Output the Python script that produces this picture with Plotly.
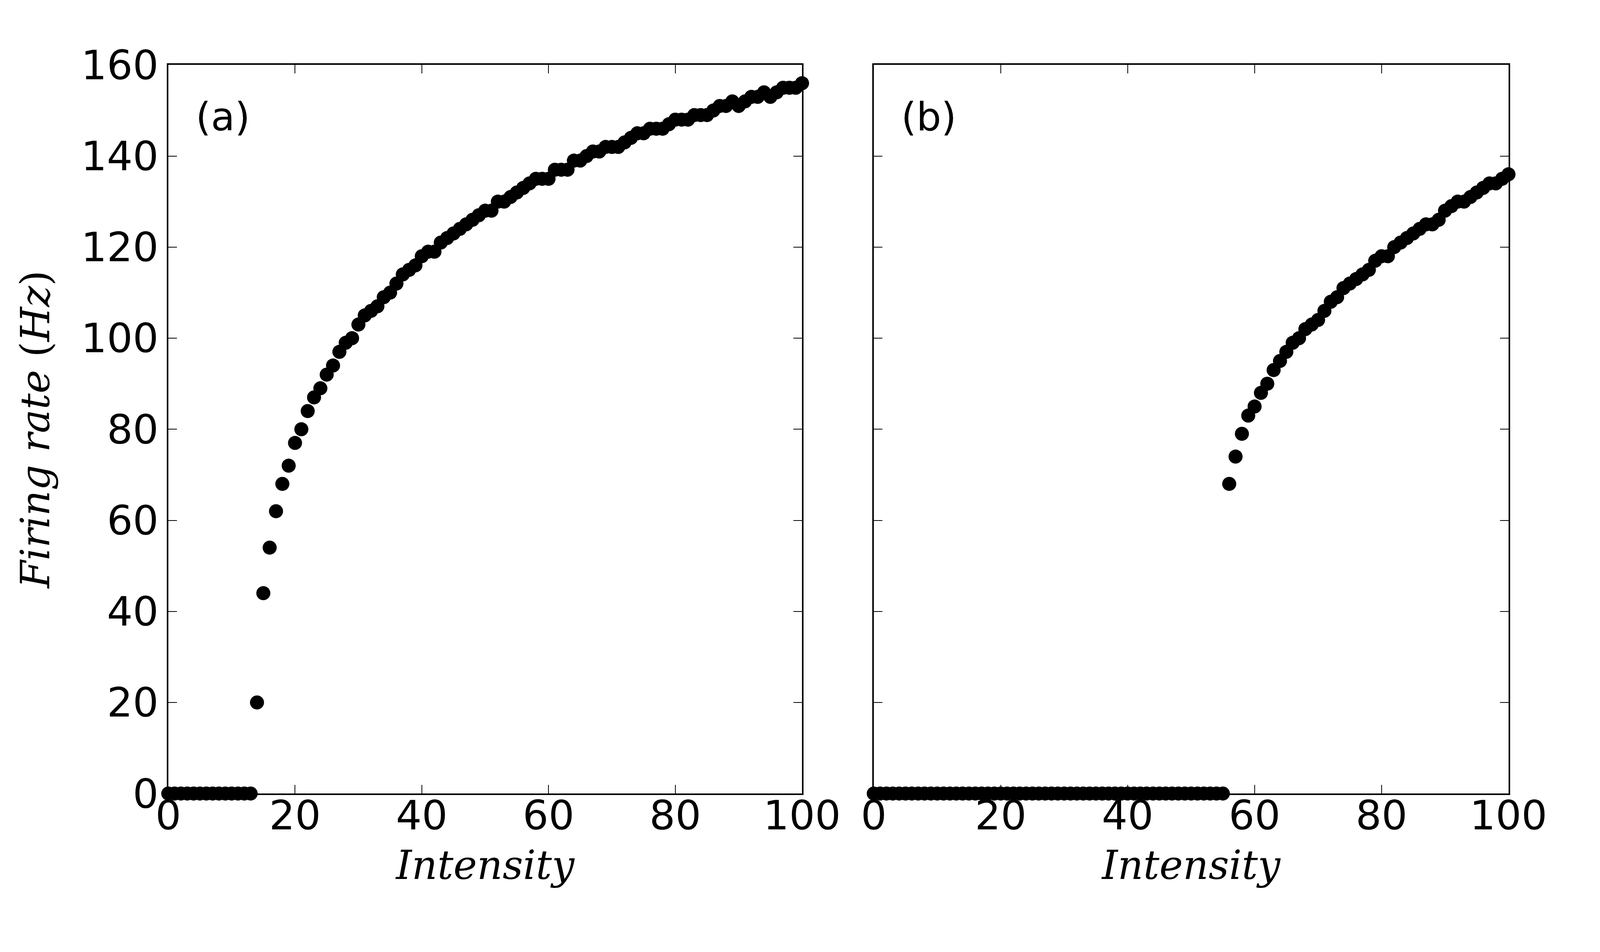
import plotly.graph_objects as go
from plotly.subplots import make_subplots

# Intensity steps (0..100)
intensity = list(range(0, 101))

# Firing rate (Hz), panel (a)
rate_a = [0] * 14 + [
    20, 44, 54, 62, 68, 72, 77, 80, 84, 87,
    89, 92, 94, 97, 99, 100, 103, 105, 106, 107,
    109, 110, 112, 114, 115, 116, 118, 119, 119, 121,
    122, 123, 124, 125, 126, 127, 128, 128, 130, 130,
    131, 132, 133, 134, 135, 135, 135, 137, 137, 137,
    139, 139, 140, 141, 141, 142, 142, 142, 143, 144,
    145, 145, 146, 146, 146, 147, 148, 148, 148, 149,
    149, 149, 150, 151, 151, 152, 151, 152, 153, 153,
    154, 153, 154, 155, 155, 155, 156,
]

# Firing rate (Hz), panel (b)
rate_b = [0] * 56 + [
    68, 74, 79, 83, 85, 88, 90, 93, 95, 97,
    99, 100, 102, 103, 104, 106, 108, 109, 111, 112,
    113, 114, 115, 117, 118, 118, 120, 121, 122, 123,
    124, 125, 125, 126, 128, 129, 130, 130, 131, 132,
    133, 134, 134, 135, 136,
]

panel_labels = ['(a)', '(b)']

W, H = 4923, 2438
TICK_FONT = dict(family='DejaVu Sans', size=125, color='black')
TITLE_FONT = dict(family='DejaVu Serif', size=122, color='black')

fig = make_subplots(rows=1, cols=2, shared_yaxes=False)

for col, rate in enumerate([rate_a, rate_b], start=1):
    fig.add_trace(go.Scatter(x=intensity, y=rate, mode='markers',
                             marker=dict(color='black', size=43, line=dict(width=0)),
                             cliponaxis=False, showlegend=False),
                  row=1, col=col)

# Axes: boxed, inward ticks on all sides
axis_style = dict(showline=True, linecolor='black', linewidth=5, mirror='ticks',
                  ticks='inside', ticklen=26, tickwidth=3, tickcolor='black',
                  showgrid=False, zeroline=False, tickfont=TICK_FONT)

fig.update_xaxes(range=[0, 100], dtick=20, tick0=0, ticklabelstandoff=-45, **axis_style)
fig.update_yaxes(range=[0, 160], dtick=20, tick0=0, **axis_style)

fig.update_layout(
    xaxis=dict(domain=[494 / W, 2509 / W],
               title=dict(text='<i>Intensity</i>', font=TITLE_FONT, standoff=40)),
    xaxis2=dict(domain=[2737 / W, 4755 / W],
                title=dict(text='<i>Intensity</i>', font=TITLE_FONT, standoff=40)),
    yaxis=dict(domain=[1 - 2075 / H, 1 - 111 / H],
               title=dict(text='<i>Firing rate </i>(<i>Hz</i>)', font=TITLE_FONT, standoff=58)),
    yaxis2=dict(domain=[1 - 2075 / H, 1 - 111 / H], showticklabels=False),
)

# Panel labels
for i, lab in enumerate(panel_labels):
    xref = 'x' if i == 0 else 'x2'
    yref = 'y' if i == 0 else 'y2'
    fig.add_annotation(text=lab, x=4.2, y=148.6, xref=xref, yref=yref,
                       xanchor='left', yanchor='middle', showarrow=False,
                       font=dict(family='DejaVu Sans', size=120, color='black'))

fig.update_layout(width=W, height=H, margin=dict(l=0, r=0, t=0, b=0),
                  plot_bgcolor='white', paper_bgcolor='white')

# resize the figure to the real viewport, scaling pixel sizes with the width
fit_js = """
var gd = document.getElementById('{plot_id}');
document.body.style.margin = '0';
document.body.style.overflow = 'hidden';
var vw = window.innerWidth, vh = window.innerHeight;
var s = vw / %d;
var keys = {size: 1, standoff: 1, ticklen: 1, tickwidth: 1, linewidth: 1, ticklabelstandoff: 1};
function sc(o) {
  if (Array.isArray(o)) { o.forEach(sc); return; }
  if (o && typeof o === 'object') {
    for (var k in o) {
      var v = o[k];
      if (keys[k] && typeof v === 'number') { o[k] = Math.round(v * s); }
      else { sc(v); }
    }
  }
}
if (Math.abs(s - 1) > 0.001 || Math.abs(vh - %d) > 1) {
  var data = JSON.parse(JSON.stringify(gd.data));
  var layout = JSON.parse(JSON.stringify(gd.layout));
  sc(data); sc(layout);
  layout.width = vw; layout.height = vh;
  Plotly.react(gd, data, layout, {displayModeBar: false});
}
""" % (W, H)

fig.write_html('out.html', post_script=fit_js, config={'displayModeBar': False})
